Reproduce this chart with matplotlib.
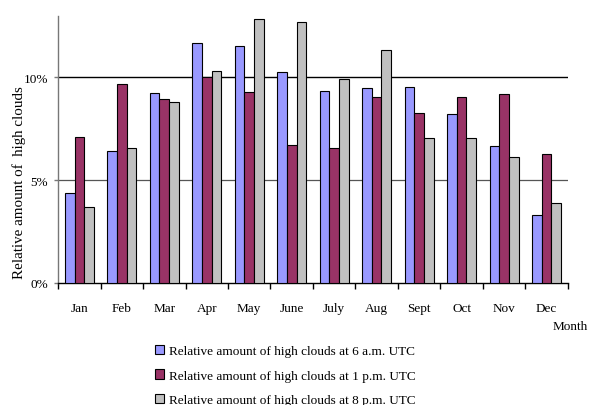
import matplotlib
matplotlib.use("Agg")
import matplotlib.pyplot as plt
import numpy as np
from matplotlib.patches import Patch

plt.rcParams['font.family'] = ['Liberation Serif', 'DejaVu Serif']

months = ["Jan", "Feb", "Mar", "Apr", "May", "June", "July", "Aug", "Sept", "Oct", "Nov", "Dec"]
am6 = [4.37, 6.42, 9.24, 11.66, 11.52, 10.27, 9.35, 9.47, 9.54, 8.20, 6.67, 3.30]
pm1 = [7.09, 9.66, 8.95, 10.00, 9.27, 6.70, 6.58, 9.06, 8.25, 9.06, 9.17, 6.28]
pm8 = [3.69, 6.55, 8.79, 10.32, 12.86, 12.67, 9.90, 11.34, 7.04, 7.04, 6.12, 3.88]
series_labels = [
    "Relative amount of high clouds at 6 a.m. UTC",
    "Relative amount of high clouds at 1 p.m. UTC",
    "Relative amount of high clouds at 8 p.m. UTC",
]
colors = ["#9999FF", "#993366", "#C0C0C0"]

fig = plt.figure(figsize=(5.89, 4.06), dpi=100)
ax = fig.add_axes([0.0985, 0.3005, 0.8658, 0.6584])

x = np.arange(len(months))
w = 0.224
for i, (vals, c) in enumerate(zip([am6, pm1, pm8], colors)):
    ax.bar(x + (i - 1) * w, vals, width=w, color=c, edgecolor="black",
           linewidth=0.8, zorder=3)

ax.set_xlim(-0.5, len(months) - 0.5)
ax.set_ylim(0, 13.0)

ax.axhline(10, color="black", linewidth=1.0, zorder=1)
ax.axhline(5, color="#555555", linewidth=0.9, zorder=1)

ax.set_yticks([0, 5, 10])
ax.set_yticklabels(["0%", "5%", "10%"], fontsize=9.5)
ax.tick_params(axis="y", length=3, width=1, color="#777777", direction="out", pad=4)

ax.set_xticks(x)
ax.set_xticklabels(months, fontsize=9.5)
ax.tick_params(axis="x", length=0, pad=14)
ax.set_xticks(np.arange(-0.5, len(months)), minor=True)
ax.tick_params(axis="x", which="minor", length=4, width=1, color="black", direction="out")

for s in ["top", "right"]:
    ax.spines[s].set_visible(False)
ax.spines["left"].set_color("#777777")
ax.spines["left"].set_linewidth(1.0)
ax.spines["bottom"].set_color("black")
ax.spines["bottom"].set_linewidth(1.0)

ax.set_ylabel("Relative amount of  high clouds", fontsize=10.8)
ax.yaxis.set_label_coords(-0.062, 0.379)
fig.text(0.968, 0.195, "Month", fontsize=9.5, ha="center", va="center")

handles = [Patch(facecolor=c, edgecolor="black", linewidth=0.8) for c in colors]
fig.legend(handles, series_labels, loc="upper left", bbox_to_anchor=(0.254, 0.162),
           frameon=False, fontsize=9.5, handlelength=0.7, handleheight=0.7,
           handletextpad=0.35, labelspacing=0.95, borderaxespad=0)

fig.savefig("out.png", dpi=100)
